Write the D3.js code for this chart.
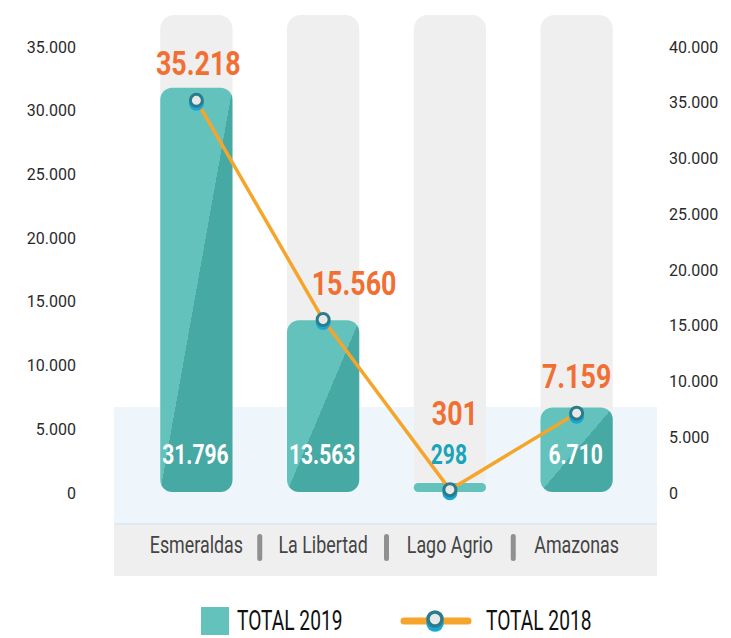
<!DOCTYPE html>
<html>
<head>
<meta charset="utf-8">
<script src="https://cdn.jsdelivr.net/npm/d3@7"></script>
<style>
  html, body { margin: 0; padding: 0; background: #ffffff; }
  svg { display: block; font-family: Roboto, "Noto Sans", sans-serif; }
</style>
</head>
<body>
<script>
// ---- data ----
const categories = ["Esmeraldas", "La Libertad", "Lago Agrio", "Amazonas"];
const total2019 = [31796, 13563, 298, 6710];
const total2018 = [35218, 15560, 301, 7159];
const leftTicks = [0, 5000, 10000, 15000, 20000, 25000, 30000, 35000];
const rightTicks = [0, 5000, 10000, 15000, 20000, 25000, 30000, 35000, 40000];
const seriesNames = ["TOTAL 2019", "TOTAL 2018"];

// ---- layout / style ----
const W = 731, H = 638;
const labelDx = [2, 31, 5, 0];
const C = {
  light: "#64c2bc", dark: "#46a9a3", column: "#efefef", band: "#eef6fc",
  line: "#f5a52b", orange: "#f26f33", ring: "#2a7c8c", dot: "#e8e8e8",
  shadow: "#19a6d4", small: "#1aa4b8"
};

const loc = d3.formatLocale({ decimal: ",", thousands: ".", grouping: [3], currency: ["", ""] });
const fmt = loc.format(",");

const svg = d3.select("body").append("svg").attr("width", W).attr("height", H);

const defs = svg.append("defs");
const grad = defs.append("linearGradient").attr("id", "barGrad")
  .attr("x1", 0).attr("y1", 0).attr("x2", 1).attr("y2", 1);
grad.append("stop").attr("offset", "0").attr("stop-color", C.light);
grad.append("stop").attr("offset", "0.5").attr("stop-color", C.light);
grad.append("stop").attr("offset", "0.5").attr("stop-color", C.dark);
grad.append("stop").attr("offset", "1").attr("stop-color", C.dark);

const x = d3.scaleBand().domain(categories).range([133, 640])
  .paddingInner(0.43).paddingOuter(0.215);
const yL = d3.scaleLinear().domain([0, 35000]).range([493, 47]);
const yR = d3.scaleLinear().domain([0, 40000]).range([493, 47]);
const bw = x.bandwidth();
const cx = c => x(c) + bw / 2;
const baseY = 492;

// backgrounds
svg.append("rect").attr("x", 114).attr("y", 407).attr("width", 543).attr("height", 117).attr("fill", C.band);
svg.append("rect").attr("x", 114).attr("y", 523).attr("width", 543).attr("height", 2).attr("fill", "#dfe9f1");
svg.append("rect").attr("x", 114).attr("y", 525).attr("width", 543).attr("height", 51).attr("fill", "#efefef");

// columns
svg.append("g").selectAll("rect").data(categories).join("rect")
  .attr("x", d => x(d)).attr("y", 15).attr("width", bw).attr("height", baseY - 15)
  .attr("rx", 14).attr("fill", C.column);

// bars
svg.append("g").selectAll("rect").data(total2019).join("rect")
  .attr("x", (d, i) => x(categories[i]))
  .attr("y", d => Math.min(yL(d), baseY - 9))
  .attr("width", bw)
  .attr("height", d => Math.max(baseY - yL(d), 9))
  .attr("rx", d => Math.min(12, Math.max(baseY - yL(d), 9) / 2))
  .attr("fill", d => (baseY - yL(d)) < 20 ? C.light : "url(#barGrad)");

// axes
const axL = svg.append("g").attr("transform", "translate(76,0)")
  .call(d3.axisLeft(yL).tickValues(leftTicks).tickSize(0).tickPadding(0).tickFormat(fmt));
const axR = svg.append("g").attr("transform", "translate(669,0)")
  .call(d3.axisRight(yR).tickValues(rightTicks).tickSize(0).tickPadding(0).tickFormat(fmt));
[axL, axR].forEach(a => {
  a.select(".domain").remove();
  a.selectAll("text").attr("font-size", 16).attr("fill", "#2a2a2a").attr("font-family", "Roboto, sans-serif");
});

// x labels and separators
svg.append("g").selectAll("text").data(categories).join("text")
  .attr("transform", d => `translate(${cx(d)},553) scale(0.76,1)`)
  .attr("text-anchor", "middle").attr("font-size", 23.5).attr("fill", "#444")
  .text(d => d);
svg.append("g").selectAll("rect").data(categories.slice(1)).join("rect")
  .attr("x", d => x(d) - (x.step() - bw) / 2 - 2.5).attr("y", 534)
  .attr("width", 5).attr("height", 27).attr("rx", 2.5).attr("fill", "#909090");

// line
const pts = total2018.map((v, i) => [cx(categories[i]), yR(v)]);
svg.append("path").attr("d", d3.line()(pts)).attr("fill", "none")
  .attr("stroke", C.line).attr("stroke-width", 3.5).attr("stroke-linejoin", "round");

function marker(g, px, py, r, sw, off) {
  g.append("circle").attr("cx", px).attr("cy", py + off).attr("r", r + sw / 2).attr("fill", C.shadow);
  g.append("circle").attr("cx", px).attr("cy", py).attr("r", r).attr("fill", C.dot)
    .attr("stroke", C.ring).attr("stroke-width", sw);
}
const mg = svg.append("g");
pts.forEach(p => marker(mg, p[0], p[1], 6, 3, 3));

// bar value labels
svg.append("g").selectAll("text").data(total2019).join("text")
  .attr("transform", (d, i) => `translate(${cx(categories[i]) - 1},464) scale(0.78,1)`)
  .attr("text-anchor", "middle").attr("font-size", 27).attr("font-weight", 700)
  .attr("fill", d => (baseY - yL(d)) < 40 ? C.small : "#ffffff")
  .text(d => fmt(d));

// line value labels
svg.append("g").selectAll("text").data(total2018).join("text")
  .attr("transform", (d, i) => {
    const ty = Math.min(yR(d) - 37, 455 - 42) + 12;
    return `translate(${cx(categories[i]) + labelDx[i]},${ty}) scale(0.79,1)`;
  })
  .attr("text-anchor", "middle").attr("font-size", 34).attr("font-weight", 700)
  .attr("fill", C.orange)
  .text(d => fmt(d));

// legend
const lg = svg.append("g");
lg.append("rect").attr("x", 201).attr("y", 607).attr("width", 28).attr("height", 28).attr("fill", C.light);
lg.append("text").attr("transform", "translate(237,630) scale(0.71,1)")
  .attr("font-size", 27).attr("fill", "#111").text(seriesNames[0]);
lg.append("line").attr("x1", 404).attr("x2", 468).attr("y1", 621).attr("y2", 621)
  .attr("stroke", C.line).attr("stroke-width", 7).attr("stroke-linecap", "round");
marker(lg, 435, 619, 7, 3.5, 4);
lg.append("text").attr("transform", "translate(486,630) scale(0.71,1)")
  .attr("font-size", 27).attr("fill", "#111").text(seriesNames[1]);
</script>
</body>
</html>
